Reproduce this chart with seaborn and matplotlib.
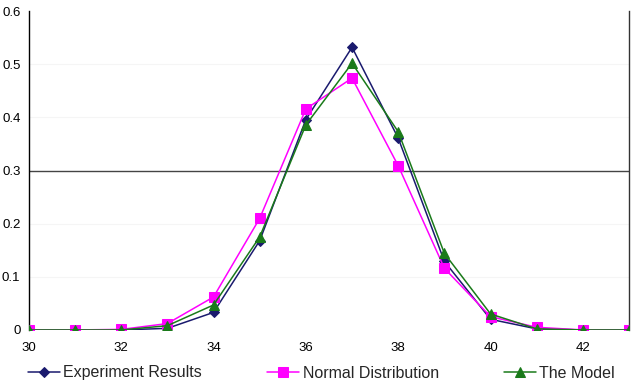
import numpy as np
import pandas as pd
import matplotlib
matplotlib.use('Agg')
import matplotlib.pyplot as plt
import seaborn as sns

x_values = [30, 31, 32, 33, 34, 35, 36, 37, 38, 39, 40, 41, 42, 43]
experiment = [0, 0, 0, 0.003, 0.033, 0.168, 0.396, 0.532, 0.361, 0.129, 0.02, 0.002, 0, 0]
normal_dist = [0, 0, 0.001, 0.012, 0.062, 0.21, 0.416, 0.474, 0.309, 0.116, 0.025, 0.005, 0, 0]
model = [0, 0, 0, 0.008, 0.047, 0.175, 0.386, 0.502, 0.373, 0.144, 0.03, 0.002, 0, 0]

series_names = ['Experiment Results', 'Normal Distribution', 'The Model']
x_ticks = [30, 32, 34, 36, 38, 40, 42]
y_ticks = [0, 0.1, 0.2, 0.3, 0.4, 0.5, 0.6]
y_tick_labels = ['0', '0.1', '0.2', '0.3', '0.4', '0.5', '0.6']

df = pd.DataFrame({
    'x': x_values * 3,
    'y': experiment + normal_dist + model,
    'series': [s for s in series_names for _ in x_values],
})

sns.set_style('white')
plt.rcParams['font.family'] = ['Liberation Sans', 'DejaVu Sans']

fig = plt.figure(figsize=(6.4, 3.85), dpi=100)
ax = fig.add_axes([0.045, 0.143, 0.938, 0.828])

palette = {'Experiment Results': '#1a1a6e', 'Normal Distribution': '#ff00ff', 'The Model': '#1a7a1a'}
markers = {'Experiment Results': 'D', 'Normal Distribution': 's', 'The Model': '^'}
sizes = {'Experiment Results': 5, 'Normal Distribution': 7, 'The Model': 6.5}

for i in [0.1, 0.2, 0.4, 0.5]:
    ax.axhline(i, color='#f5f5f5', linewidth=0.8, zorder=0)
ax.axhline(0.3, color='#444444', linewidth=1.0, zorder=1)

for name in series_names:
    sub = df[df['series'] == name]
    sns.lineplot(data=sub, x='x', y='y', ax=ax, color=palette[name], marker=markers[name],
                 markersize=sizes[name], markeredgecolor=palette[name], linewidth=1.1,
                 label=name, zorder=3)

ax.set_xlim(30, 43)
ax.set_ylim(0, 0.6)
ax.set_xticks(x_ticks)
ax.set_yticks(y_ticks)
ax.set_yticklabels(y_tick_labels)
ax.set_xlabel('')
ax.set_ylabel('')
ax.tick_params(axis='both', labelsize=9.5, colors='black', length=0, pad=6)
ax.tick_params(axis='x', length=3, color='#cccccc', direction='out', pad=6)
ax.spines['top'].set_visible(False)
ax.spines['bottom'].set_visible(False)
ax.spines['left'].set_color('black')
ax.spines['right'].set_color('#333333')
ax.spines['left'].set_linewidth(1.0)
ax.spines['right'].set_linewidth(1.0)

ax.legend(loc='center left', bbox_to_anchor=(28 / 640, 1 - 373 / 385),
          bbox_transform=fig.transFigure, ncol=3, frameon=False,
          fontsize=11.5, columnspacing=4.1, handlelength=2.0, handletextpad=0.2,
          borderpad=0, borderaxespad=0)

fig.savefig('out.png', dpi=100)
